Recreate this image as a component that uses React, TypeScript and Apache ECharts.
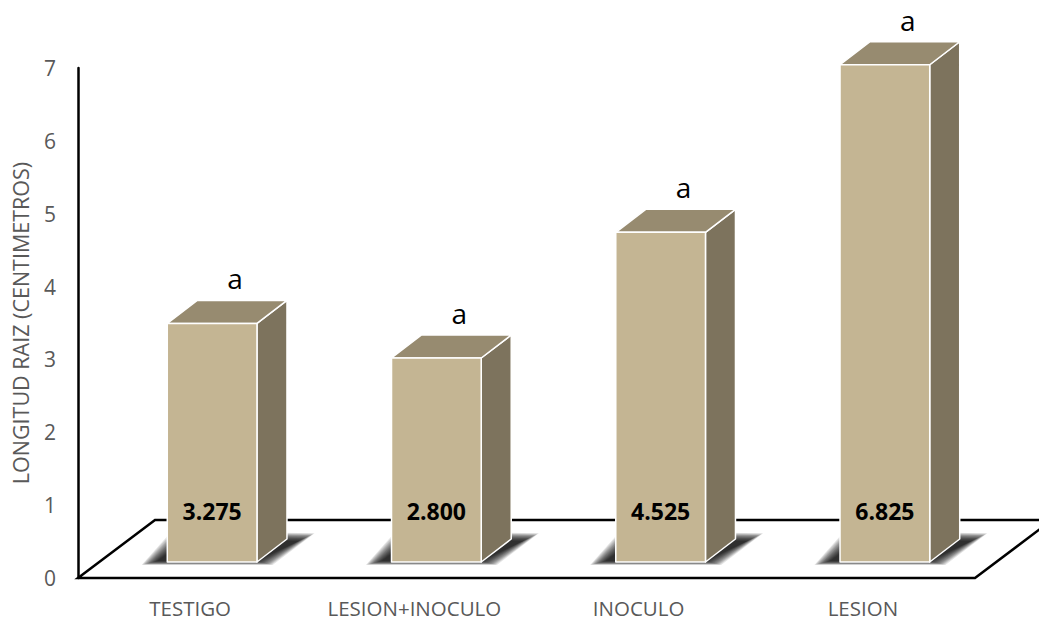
import React, { useEffect, useRef } from "react";
import * as echarts from "echarts";

const categories = ["TESTIGO", "LESION+INOCULO", "INOCULO", "LESION"];
const values = [3.275, 2.8, 4.525, 6.825];
const letters = ["a", "a", "a", "a"];
const yMin = 0;
const yMax = 7;
const yInterval = 1;
const yTitle = "LONGITUD RAIZ (CENTIMETROS)";

const FONT = "'Open Sans', 'DejaVu Sans', sans-serif";
const FRONT = "#C4B593";
const TOP = "#978B70";
const SIDE = "#7D735D";
// 3D projection constants (style only)
const FLOOR_DX = 77;
const FLOOR_DY = 58;
const BAR_DX = 30;
const BAR_DY = 23;
const BAR_SHIFT_X = 22;
const BAR_SHIFT_Y = 16;
const SHADOW_LAYERS = 14;

export default function App() {
  const ref = useRef<HTMLDivElement>(null);
  useEffect(() => {
    document.body.style.margin = "0";
    const chart = echarts.init(ref.current!, null, { renderer: "svg" });
    const barData = values.map((v, i) => [i, v]);

    const option: any = {
      animation: false,
      backgroundColor: "#ffffff",
      grid: { left: 78, right: 64, top: 68, bottom: 43 },
      xAxis: {
        type: "category",
        data: categories,
        axisLine: { show: false },
        axisTick: { show: false },
        axisLabel: {
          color: "#595959",
          fontSize: 20.5,
          fontFamily: FONT,
          margin: 19,
          interval: 0,
          hideOverlap: false,
        },
      },
      yAxis: {
        type: "value",
        min: yMin,
        max: yMax,
        interval: yInterval,
        name: yTitle,
        nameLocation: "middle",
        nameRotate: 90,
        nameGap: 47,
        nameTextStyle: { color: "#595959", fontSize: 21.5, fontFamily: FONT },
        axisLine: { show: true, lineStyle: { color: "#000", width: 2.5 } },
        axisTick: { show: false },
        splitLine: { show: false },
        axisLabel: { color: "#595959", fontSize: 21, fontFamily: FONT, margin: 22 },
      },
      series: [
        {
          type: "custom",
          z: 1,
          silent: true,
          data: [[0, 0]],
          renderItem: (params: any, api: any) => {
            const cs = params.coordSys;
            const x0 = cs.x;
            const x1 = cs.x + cs.width;
            const yb = cs.y + cs.height;
            return {
              type: "polygon",
              shape: {
                points: [
                  [x0, yb],
                  [x0 + FLOOR_DX, yb - FLOOR_DY],
                  [x1 + FLOOR_DX, yb - FLOOR_DY],
                  [x1, yb],
                ],
              },
              style: { fill: "none", stroke: "#000", lineWidth: 2.5, lineJoin: "miter" },
            };
          },
        },
        {
          type: "custom",
          z: 2,
          silent: true,
          data: barData,
          encode: { x: 0, y: 1 },
          renderItem: (params: any, api: any) => {
            const i = api.value(0);
            const base = api.coord([i, 0]);
            const w = api.size([1, 0])[0] * 0.4;
            const cx = base[0] + BAR_SHIFT_X;
            const yb = base[1] - BAR_SHIFT_Y;
            const xl = cx - w / 2;
            const xr = cx + w / 2;
            const children: any[] = [];
            for (let k = 0; k < SHADOW_LAYERS; k++) {
              const d = k * 1.2;
              children.push({
                type: "polygon",
                shape: {
                  points: [
                    [xl - 10 - d, yb - 1 + d * 0.25],
                    [xr + d, yb - 1 + d * 0.25],
                    [xr + BAR_DX + 12 + d, yb - BAR_DY + 2 - d * 0.5],
                    [xl + BAR_DX - 10 - d, yb - BAR_DY - d * 0.5],
                  ],
                },
                style: { fill: "rgba(0,0,0,0.11)" },
              });
            }
            return { type: "group", children };
          },
        },
        {
          type: "custom",
          z: 3,
          silent: true,
          data: barData,
          encode: { x: 0, y: 1 },
          renderItem: (params: any, api: any) => {
            const i = api.value(0);
            const v = api.value(1);
            const base = api.coord([i, 0]);
            const top = api.coord([i, v]);
            const w = api.size([1, 0])[0] * 0.4;
            const cx = base[0] + BAR_SHIFT_X;
            const yb = base[1] - BAR_SHIFT_Y;
            const yt = top[1] - BAR_SHIFT_Y;
            const xl = cx - w / 2;
            const xr = cx + w / 2;
            const edge = { stroke: "#ffffff", lineWidth: 1.5, lineJoin: "round" };
            return {
              type: "group",
              children: [
                {
                  type: "polygon",
                  shape: {
                    points: [
                      [xr, yt],
                      [xr + BAR_DX, yt - BAR_DY],
                      [xr + BAR_DX, yb - BAR_DY],
                      [xr, yb],
                    ],
                  },
                  style: { fill: SIDE, ...edge },
                },
                {
                  type: "polygon",
                  shape: {
                    points: [
                      [xl, yt],
                      [xr, yt],
                      [xr + BAR_DX, yt - BAR_DY],
                      [xl + BAR_DX, yt - BAR_DY],
                    ],
                  },
                  style: { fill: TOP, ...edge },
                },
                {
                  type: "rect",
                  shape: { x: xl, y: yt, width: w, height: yb - yt },
                  style: { fill: FRONT, ...edge },
                },
                {
                  type: "text",
                  style: {
                    x: cx,
                    y: yb - 51,
                    text: v.toFixed(3),
                    fill: "#000",
                    font: `bold 23px ${FONT}`,
                    align: "center",
                    verticalAlign: "middle",
                  },
                },
                {
                  type: "text",
                  style: {
                    x: cx + 23,
                    y: yt - BAR_DY - 22,
                    text: letters[i],
                    fill: "#000",
                    font: `28px ${FONT}`,
                    align: "center",
                    verticalAlign: "middle",
                  },
                },
              ],
            };
          },
        },
      ],
    };
    chart.setOption(option);
    return () => chart.dispose();
  }, []);
  return <div ref={ref} style={{ width: 1039, height: 621, overflow: "hidden" }} />;
}
